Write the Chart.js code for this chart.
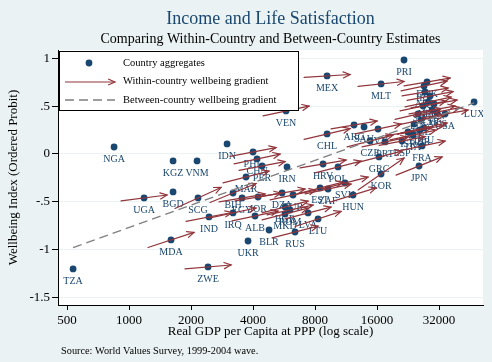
<!DOCTYPE html>
<html>
<head>
<meta charset="utf-8">
<script src="https://cdn.jsdelivr.net/npm/chart.js@4.4.1/dist/chart.umd.min.js"></script>
<style>
html,body{margin:0;padding:0;background:#EAF2F3}
</style>
</head>
<body>
<canvas id="c" width="492" height="362"></canvas>
<script>
// country aggregates
const countries=['TZA','NGA','UGA','MDA','BGD','KGZ','VNM','SCG','IND','ZWE','IDN','UKR','IRQ','BIH','EGY','MAR','ALB','JOR','BLR','PHL','CHN','PER','IRN','DZA','TUR','BGR','ROM','MKD','RUS','LVA','LTU','VEN','MEX','CHL','HRV','POL','EST','ZAF','SVK','HUN','ARG','SAU','SVN','CZE','PRT','GRC','KOR','MLT','PRI','JPN','FRA','ITA','ESP','USA','LUX','DNK','IRL','AUT','ISL','NLD','CAN','SWE','CHE','AUS','FIN','BEL','NZL','DEU','GBR','ISR']
const gdp=[535,846,1183,1599,1636,1636,2139,2162,2445,2418,2992,3782,3198,3198,3538,3698,4090,4231,4784,4000,4183,4423,5849,5533,6256,5720,6050,5720,6396,7397,8272,5784,9152,9152,8748,10347,8462,9253,11189,12235,12372,13834,16179,14794,17496,16358,16734,16734,21632,25585,26465,23936,21155,34214,47341,27974,27058,27362,28941,28302,30256,26755,29587,31297,25300,26174,24202,27058,25888,22627]
const wellbeing=[-1.205,0.073,-0.461,-0.901,-0.398,-0.073,-0.073,-0.461,-0.660,-1.184,0.105,-0.912,-0.618,-0.409,-0.461,-0.241,-0.650,-0.451,-0.797,0.021,-0.052,-0.126,-0.136,-0.409,-0.430,-0.556,-0.587,-0.629,-0.818,-0.618,-0.681,0.451,0.818,0.210,-0.105,-0.136,-0.356,-0.367,-0.304,-0.430,0.304,0.283,0.262,0.136,0.126,-0.031,-0.210,0.734,0.985,-0.126,0.084,0.199,0.136,0.419,0.545,0.755,0.713,0.650,0.608,0.545,0.524,0.503,0.461,0.440,0.419,0.356,0.314,0.273,0.252,0.231]
// within-country gradient (index per log point), null = no arrow
const gradient=[null,null,0.12,0.31,null,null,null,0.43,0.18,0.08,null,null,0.20,0.39,0.16,0.24,0.20,0.16,null,0.18,0.20,0.18,null,0.16,0.20,0.24,0.20,0.24,0.24,0.24,0.31,0.20,0.06,0.22,0.16,0.24,0.24,0.20,0.24,0.29,0.16,null,0.20,0.24,0.20,0.24,0.65,0.10,null,0.37,0.20,0.20,0.18,0.16,null,0.16,0.20,0.16,0.18,0.20,0.16,0.20,0.16,0.18,0.22,0.20,null,0.20,0.18,0.16]

// between-country fit, end points
const fitGdp=[535,47341]
const fitWb=[-0.982,0.535]

const xTicks=[500,1000,2000,4000,8000,16000,32000]
const yTicks=[1,0.5,0,-0.5,-1,-1.5]

const TITLE='Income and Life Satisfaction'
const SUBTITLE='Comparing Within-Country and Between-Country Estimates'
const XTITLE='Real GDP per Capita at PPP (log scale)'
const YTITLE='Wellbeing Index (Ordered Probit)'
const NOTE='Source: World Values Survey, 1999-2004 wave.'
const LEGEND=['Country aggregates','Within-country wellbeing gradient','Between-country wellbeing gradient']

const NAVY='#1A476F', CRAN='#90353B', BG='#EAF2F3', SERIF='"Liberation Serif", "DejaVu Serif", serif'
const HALF=0.257 // arrow reach either side of the country mean, log points

function fmtY(v){
 if(v===0)return '0'
 let s=String(Math.abs(v)); if(s.startsWith('0.'))s=s.slice(1)
 return (v<0?'-':'')+s
}

function arrow(ctx,x0,y0,x1,y1){
 ctx.beginPath();ctx.moveTo(x0,y0);ctx.lineTo(x1,y1);ctx.stroke()
 const a=Math.atan2(y1-y0,x1-x0),L=7.5,s=0.42
 ctx.beginPath()
 ctx.moveTo(x1-L*Math.cos(a-s),y1-L*Math.sin(a-s))
 ctx.lineTo(x1,y1)
 ctx.lineTo(x1-L*Math.cos(a+s),y1-L*Math.sin(a+s))
 ctx.stroke()
}

const decor={
 id:'decor',
 beforeDraw(chart){
  const {ctx,chartArea:a}=chart
  ctx.save()
  ctx.fillStyle=BG;ctx.fillRect(0,0,chart.width,chart.height)
  ctx.fillStyle='#fff';ctx.fillRect(a.left,a.top,a.right-a.left,a.bottom-a.top)
  ctx.restore()
 },
 afterDatasetDraw(chart,args){
  if(args.index!==1)return
  const {ctx,chartArea:a}=chart,X=chart.scales.x,Y=chart.scales.y
  ctx.save()
  ctx.beginPath();ctx.rect(a.left,a.top,a.right-a.left,a.bottom-a.top);ctx.clip()
  ctx.font='10px '+SERIF;ctx.fillStyle=NAVY;ctx.textAlign='center';ctx.textBaseline='middle'
  countries.forEach((c,i)=>ctx.fillText(c,X.getPixelForValue(gdp[i]),Y.getPixelForValue(wellbeing[i])+12.5))
  ctx.strokeStyle=CRAN;ctx.lineWidth=1.2;ctx.lineCap='round'
  countries.forEach((c,i)=>{
   const g=gradient[i]; if(g==null)return
   arrow(ctx,X.getPixelForValue(gdp[i]*Math.exp(-HALF)),Y.getPixelForValue(wellbeing[i]-g*HALF),
             X.getPixelForValue(gdp[i]*Math.exp(HALF)),Y.getPixelForValue(wellbeing[i]+g*HALF))
  })
  ctx.restore()
 },
 afterDraw(chart){
  const {ctx,chartArea:a}=chart,cx=(a.left+a.right)/2
  ctx.save()
  ctx.textAlign='center';ctx.textBaseline='middle'
  ctx.fillStyle=NAVY;ctx.font='18px '+SERIF;ctx.fillText(TITLE,cx,19)
  ctx.fillStyle='#000';ctx.font='14px '+SERIF;ctx.fillText(SUBTITLE,cx,39)
  ctx.font='13px '+SERIF;ctx.fillText(XTITLE,cx,332)
  ctx.save();ctx.translate(14,(a.top+a.bottom)/2);ctx.rotate(-Math.PI/2);ctx.fillText(YTITLE,0,0);ctx.restore()
  ctx.textAlign='left';ctx.font='10.3px '+SERIF;ctx.fillText(NOTE,61,351)
  // legend
  ctx.fillStyle='#fff';ctx.fillRect(59,51,240,60)
  ctx.strokeStyle='#000';ctx.lineWidth=1;ctx.strokeRect(59.5,51.5,239,59)
  ctx.fillStyle=NAVY;ctx.beginPath();ctx.arc(89,63,3.4,0,Math.PI*2);ctx.fill()
  ctx.strokeStyle=CRAN;ctx.lineWidth=1.2;arrow(ctx,65,82,115,82)
  ctx.strokeStyle='#7F7F7F';ctx.lineWidth=1.3;ctx.setLineDash([9,5])
  ctx.beginPath();ctx.moveTo(65,100);ctx.lineTo(115,100);ctx.stroke();ctx.setLineDash([])
  ctx.fillStyle='#000';ctx.font='10.5px '+SERIF
  LEGEND.forEach((t,i)=>ctx.fillText(t,123,63+i*18.5))
  ctx.restore()
 }
}

new Chart(document.getElementById('c'),{
 type:'scatter',
 data:{datasets:[
  {data:fitGdp.map((x,i)=>({x,y:fitWb[i]})),showLine:true,borderColor:'#7F7F7F',borderWidth:1.3,borderDash:[9,5],pointRadius:0,order:1},
  {data:gdp.map((x,i)=>({x,y:wellbeing[i]})),pointRadius:3.4,pointBackgroundColor:NAVY,pointBorderWidth:0,order:2}
 ]},
 options:{
  responsive:false,animation:false,events:[],devicePixelRatio:1,
  layout:{padding:{top:50,right:9,bottom:0,left:0}},
  plugins:{legend:{display:false},tooltip:{enabled:false}},
  scales:{
   x:{type:'logarithmic',min:452,max:52300,
    afterBuildTicks:s=>{s.ticks=xTicks.map(v=>({value:v}))},
    afterFit:s=>{s.height=57},
    grid:{drawOnChartArea:false,tickLength:5,tickColor:'#000',color:'#000'},
    border:{color:'#000',width:1},
    ticks:{font:{family:SERIF,size:13},color:'#000',padding:3,maxRotation:0,autoSkip:false,callback:v=>String(v)}},
   y:{min:-1.583,max:1.09,
    afterBuildTicks:s=>{s.ticks=yTicks.map(v=>({value:v}))},
    afterFit:s=>{s.width=58},
    grid:{color:BG,tickColor:'#000',tickLength:6,lineWidth:1},
    border:{color:'#000',width:1},
    ticks:{font:{family:SERIF,size:13},color:'#000',padding:2,callback:v=>fmtY(v)}}
  }
 },
 plugins:[decor]
})
</script>
</body>
</html>
